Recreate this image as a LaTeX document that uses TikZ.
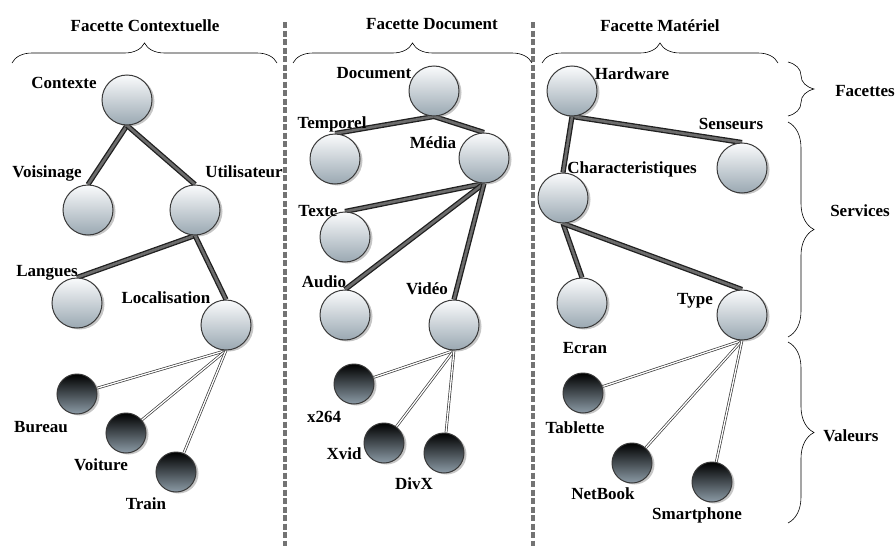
\documentclass[tikz,border=0pt]{standalone}
\usepackage{fontspec}
\setmainfont{Liberation Serif}
\usetikzlibrary{shadows,decorations.pathreplacing,backgrounds}
\definecolor{ballTop}{HTML}{FAFBFC}
\definecolor{ballBot}{HTML}{9AA8B2}
\definecolor{leafBot}{HTML}{8C9BA6}
\begin{document}
\begin{tikzpicture}[x=1pt, y=-1pt, font=\bfseries\fontsize{17}{19}\selectfont,
    ball/.style={circle, draw=gray!45!black, line width=1pt, minimum size=50pt, inner sep=0pt,
      top color=ballTop, bottom color=ballBot,
      drop shadow={opacity=0.45, shadow xshift=2.5pt, shadow yshift=-1.5pt}},
    leaf/.style={ball, minimum size=40pt, top color=black, bottom color=leafBot},
    lbl/.style={inner sep=0pt, text height=12pt, text depth=0pt},
    branch/.style={draw=gray!25!black, line width=1.3pt, double=gray!85!black, double distance=2.6pt},
    twig/.style={draw=gray!45!black, line width=0.7pt, double=white, double distance=1.3pt},
    sep/.style={black!55, line width=3.5pt, dash pattern=on 6pt off 2.5pt},
    brc/.style={decorate, decoration={brace, amplitude=#1}, line width=0.6pt}]
  \useasboundingbox (0,0) rectangle (895,546);

  % separators
  \draw[sep] (285,22) -- (285,546);
  \draw[sep] (533,22) -- (533,546);

  % braces
  \draw[brc=20pt] (12,63) -- (277,63);
  \draw[brc=20pt] (293,63) -- (532,63);
  \draw[brc=20pt] (542,63) -- (778,63);
  \draw[brc=26pt] (788,62) -- (788,116);
  \draw[brc=26pt] (788,122) -- (788,337);
  \draw[brc=26pt] (788,342) -- (788,523);
  \node[lbl] (tctx) at (145,25) {Facette Contextuelle};
  \node[lbl] (tdoc) at (432,24) {Facette Document};
  \node[lbl] (tmat) at (660,25) {Facette Matériel};
  \node[lbl] (tfac) at (865,90) {Facettes};
  \node[lbl] (tsrv) at (860,210) {Services};
  \node[lbl] (tval) at (851,435) {Valeurs};

  % facette contextuelle
  \node[ball] (ctx) at (127,100) {};
  \node[ball] (vois) at (88,210) {};
  \node[ball] (util) at (195,210) {};
  \node[ball] (lang) at (77,303) {};
  \node[ball] (loc) at (226,325) {};
  \node[leaf] (bur) at (77,394) {};
  \node[leaf] (voit) at (126,433) {};
  \node[leaf] (train) at (176,472) {};
  \node[lbl] (lctx) at (64,82) {Contexte};
  \node[lbl] (lvois) at (47,171) {Voisinage};
  \node[lbl] (lutil) at (244,171) {Utilisateur};
  \node[lbl] (llang) at (47,270) {Langues};
  \node[lbl] (lloc) at (166,297) {Localisation};
  \node[lbl] (lbur) at (41,426) {Bureau};
  \node[lbl] (lvoit) at (101,464) {Voiture};
  \node[lbl] (ltrain) at (146,503) {Train};

  % facette document
  \node[ball] (doc) at (434,91) {};
  \node[ball] (temp) at (335,159) {};
  \node[ball] (media) at (484,158) {};
  \node[ball] (texte) at (345,237) {};
  \node[ball] (audio) at (345,315) {};
  \node[ball] (video) at (454,325) {};
  \node[leaf] (xhd) at (354,384) {};
  \node[leaf] (xvid) at (384,443) {};
  \node[leaf] (divx) at (444,453) {};
  \node[lbl] (ldoc) at (374,72) {Document};
  \node[lbl] (ltemp) at (332,122) {Temporel};
  \node[lbl] (lmedia) at (433,142) {Média};
  \node[lbl] (ltexte) at (318,210) {Texte};
  \node[lbl] (laudio) at (324,281) {Audio};
  \node[lbl] (lvideo) at (427,288) {Vidéo};
  \node[lbl] (lxhd) at (324,416) {x264};
  \node[lbl] (lxvid) at (344,453) {Xvid};
  \node[lbl] (ldivx) at (414,483) {DivX};

  % facette materiel
  \node[ball] (hw) at (572,91) {};
  \node[ball] (sens) at (742,168) {};
  \node[ball] (car) at (563,198) {};
  \node[ball] (ecran) at (582,303) {};
  \node[ball] (type) at (742,315) {};
  \node[leaf] (tab) at (583,393) {};
  \node[leaf] (netb) at (632,463) {};
  \node[leaf] (smart) at (712,482) {};
  \node[lbl] (lhw) at (632,73) {Hardware};
  \node[lbl] (lsens) at (731,123) {Senseurs};
  \node[lbl] (lcar) at (632,167) {Characteristiques};
  \node[lbl] (lecran) at (585,347) {Ecran};
  \node[lbl] (ltype) at (695,298) {Type};
  \node[lbl] (ltab) at (575,427) {Tablette};
  \node[lbl] (lnetb) at (603,493) {NetBook};
  \node[lbl] (lsmart) at (697,513) {Smartphone};

  \begin{scope}[on background layer]
    \draw[branch] (ctx.south) -- (vois.north);
    \draw[branch] (ctx.south) -- (util.north);
    \draw[branch] (util.south) -- (lang.north);
    \draw[branch] (util.south) -- (loc.north);
    \draw[twig] (loc.south) -- (bur);
    \draw[twig] (loc.south) -- (voit);
    \draw[twig] (loc.south) -- (train);
    \draw[branch] (doc.south) -- (temp.north);
    \draw[branch] (doc.south) -- (media.north);
    \draw[branch] (media.south) -- (texte.north);
    \draw[branch] (media.south) -- (audio.north);
    \draw[branch] (media.south) -- (video.north);
    \draw[twig] (video.south) -- (xhd);
    \draw[twig] (video.south) -- (xvid);
    \draw[twig] (video.south) -- (divx);
    \draw[branch] (hw.south) -- (sens.north);
    \draw[branch] (hw.south) -- (car.north);
    \draw[branch] (car.south) -- (ecran.north);
    \draw[branch] (car.south) -- (type.north);
    \draw[twig] (type.south) -- (tab);
    \draw[twig] (type.south) -- (netb);
    \draw[twig] (type.south) -- (smart);
  \end{scope}
\end{tikzpicture}
\end{document}
